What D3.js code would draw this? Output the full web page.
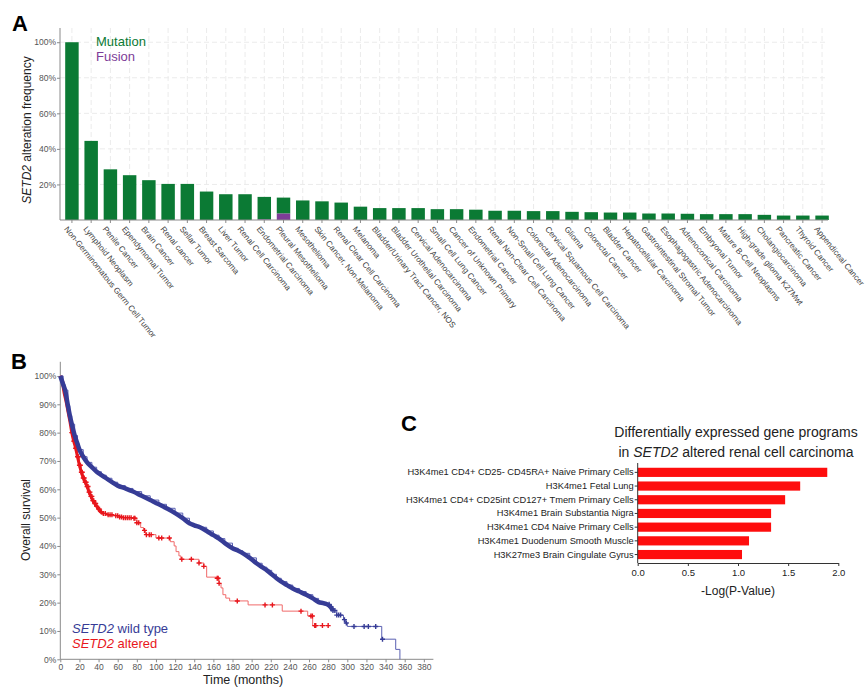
<!DOCTYPE html>
<html>
<head>
<meta charset="utf-8">
<script src="https://cdn.jsdelivr.net/npm/d3@7"></script>
<style>
  html, body { margin: 0; padding: 0; background: #fff; }
  svg { display: block; font-family: "Liberation Sans", Arial, Helvetica, sans-serif; }
</style>
</head>
<body>
<svg id="chart" width="867" height="688"></svg>
<script>
// ---------------- Panel A data ----------------
const categories = [
  "Non-Germinomatous Germ Cell Tumor", "Lymphoid Neoplasm", "Penile Cancer", "Ependymomal Tumor",
  "Brain Cancer", "Renal cancer", "Sellar Tumor", "Breast Sarcoma", "Liver Tumor",
  "Renal Cell Carcinoma", "Endometrial Carcinoma", "Pleural Mesothelioma", "Mesothelioma",
  "Skin Cancer, Non-Melanoma", "Renal Clear Cell Carcinoma", "Melanoma",
  "Bladder/Urinary Tract Cancer, NOS", "Bladder Urothelial Carcinoma", "Cervical Adenocarcinoma",
  "Small Cell Lung Cancer", "Cancer of Unknown Primary", "Endometrial Cancer",
  "Renal Non-Clear Cell Carcinoma", "Non-Small Cell Lung Cancer", "Colorectal Adenocarcinoma",
  "Cervical Squamous Cell Carcinoma", "Glioma", "Colorectal Cancer", "Bladder Cancer",
  "Hepatocellular Carcinoma", "Gastrointestinal Stromal Tumor", "Esophagogastric Adenocarcinoma",
  "Adrenocortical Carcinoma", "Embryonal Tumor", "Mature B-Cell Neoplasms",
  "High-grade glioma K27Mwt", "Cholangiocarcinoma", "Pancreatic Cancer", "Thyroid Cancer",
  "Appendiceal Cancer"
];
const mutationVals = [100, 44.5, 28.5, 25.2, 22.4, 20.3, 20.3, 16.0, 14.5, 14.5,
  12.7, 9.0, 11.0, 10.5, 9.8, 7.5, 6.7, 6.7, 6.7, 6.1,
  6.1, 5.8, 5.2, 5.2, 5.0, 5.0, 4.6, 4.4, 4.2, 4.2,
  3.65, 3.65, 3.5, 3.3, 3.3, 3.3, 2.9, 2.5, 2.5, 2.5];
const fusionVals = [0, 0, 0, 0, 0, 0, 0, 0, 0, 0,
  0.3, 3.6, 0, 0, 0, 0, 0, 0, 0, 0,
  0, 0, 0, 0, 0, 0, 0, 0, 0, 0,
  0, 0, 0, 0, 0, 0, 0, 0, 0, 0];
const freqTicks = [20, 40, 60, 80, 100];

// ---------------- Panel B data ----------------
// Kaplan-Meier step points [months, survival %]
const wildTypeKM = [[0,100],[3,97],[5,95],[8,89.5],[10,86],[12,83],[15,79],[18,76],[20,74],[24,71.5],
  [28,69.5],[33,67.8],[38,66.2],[43,65],[48,63.9],[54,62.5],[60,61.3],[68,60.3],[76,59.2],[85,57.7],
  [94,56.2],[103,54.7],[111,53.3],[120,51.6],[128,49.8],[135,48],[140,47.3],[146,46.6],[153,45.3],
  [160,43.8],[166,42.6],[172,41],[180,39.2],[186,38.3],[191,37.4],[198,35.8],[205,33.9],[211,32.5],
  [216,31.4],[221,30],[226,28.6],[231,27.4],[237,26.2],[243,25],[250,23.9],[257,22.8],[264,21.5],
  [270,20.2],[275,19.8],[279,19.4],[282,18.6],[285,17.2],[289,15.6],[296,14],[298,12.8],[300,11.6],
  [336,7.1],[350.6,3.5],[355,0]];
const wildTypeCensor = [281, 283, 285, 287, 289, 291, 293, 297, 299, 307, 317.6, 322, 329.7, 336.8];
const alteredKM = [[0,100],[2,98],[4,94],[6,91],[8,87.5],[10,84],[12,80],[14,77],[16,74.5],[18,71.5],
  [20,68.5],[22,66],[24,64],[26,62.5],[28,61],[30,59],[32,57.5],[34,56],[36,55],[38,54],[40,53],
  [42,52],[45,51.5],[48,51],[55,50.7],[62,50.2],[66,50],[75,49.8],[80,48.2],[84,46.5],[87,45.5],
  [89,44],[100,42.8],[115,41.5],[119,40],[121,38],[124,36.5],[126,35.3],[145,34],[150,32.8],
  [153,29],[163,28.6],[166,26.8],[168,25.2],[170,22.8],[173,21.6],[177,20.6],[196.3,19.2],[232,17],
  [258.6,15.3],[263.8,11.9],[281,11.9]];
const alteredCensor = [12,13,14,15,16,17,18,19,20,21,22,23,24,25,26,27,28,29,30,31,32,33,34,35,36,37,
  38,40,41,43,45,47,50,52,54,58,60,62,64,66,68,70,72,74,77,78,80,82,88,90,93,95,103,106,114,127,137,
  145,150,164,165,166,185,214,221.7,251.6,262,263.5,266,267,274,280];
const survivalTicks = [0,10,20,30,40,50,60,70,80,90,100];
const timeTicks = [0,20,40,60,80,100,120,140,160,180,200,220,240,260,280,300,320,340,360,380];

// ---------------- Panel C data ----------------
const programs = [
  "H3K4me1 CD4+ CD25- CD45RA+ Naive Primary Cells",
  "H3K4me1 Fetal Lung",
  "H3K4me1 CD4+ CD25int CD127+ Tmem Primary Cells",
  "H3K4me1 Brain Substantia Nigra",
  "H3K4me1 CD4 Naive Primary Cells",
  "H3K4me1 Duodenum Smooth Muscle",
  "H3K27me3 Brain Cingulate Gyrus"
];
const logPVals = [1.89, 1.62, 1.47, 1.33, 1.33, 1.11, 1.04];
const logPTicks = [0, 0.5, 1.0, 1.5, 2.0];

// ---------------- Drawing ----------------
const svg = d3.select("#chart");
const GREEN = "#0b7a34", PURPLE = "#7d3c98", BLUE = "#363c96", RED = "#e8161c", CRED = "#fe0d0d";
const BLUE_THIN = "#5a60b2", RED_THIN = "#f06a6a";
const AXIS = "#8a8a8a", TICKTXT = "#555";
const FONT = "'Liberation Sans', Arial, sans-serif";

// ===== Panel A =====
(function () {
  const x = d3.scaleBand().domain(categories).range([65.2, 828.8]).paddingInner(0.3).paddingOuter(0);
  const y = d3.scaleLinear().domain([0, 108]).range([220, 28]);
  const g = svg.append("g");

  // grid
  g.append("g").selectAll("line").data(freqTicks).join("line")
    .attr("x1", 60).attr("x2", 828).attr("y1", d => y(d)).attr("y2", d => y(d))
    .attr("stroke", "#ebebeb").attr("stroke-dasharray", "5,3");
  g.append("g").selectAll("line").data(categories).join("line")
    .attr("x1", d => x(d) + x.bandwidth() / 2).attr("x2", d => x(d) + x.bandwidth() / 2)
    .attr("y1", 28).attr("y2", 220)
    .attr("stroke", "#ebebeb").attr("stroke-dasharray", "5,3");

  // bars: fusion at bottom, mutation stacked on top
  const rows = categories.map((c, i) => ({ c, m: mutationVals[i], f: fusionVals[i] }));
  g.append("g").selectAll("rect").data(rows).join("rect")
    .attr("x", d => x(d.c)).attr("width", x.bandwidth())
    .attr("y", d => y(d.f + d.m)).attr("height", d => y(d.f) - y(d.f + d.m))
    .attr("fill", GREEN);
  g.append("g").selectAll("rect").data(rows.filter(d => d.f > 0)).join("rect")
    .attr("x", d => x(d.c)).attr("width", x.bandwidth())
    .attr("y", d => y(d.f)).attr("height", d => y(0) - y(d.f))
    .attr("fill", PURPLE);

  // y axis
  const ya = g.append("g").attr("transform", "translate(60,0)")
    .call(d3.axisLeft(y).tickValues(freqTicks).tickFormat(d => d + "%").tickSize(3).tickPadding(1));
  ya.select(".domain").attr("stroke", AXIS).attr("d", "M0,28V220");
  ya.selectAll(".tick line").attr("stroke", AXIS);
  ya.selectAll(".tick text").attr("fill", TICKTXT).style("font-size", "8.5px").style("font-family", FONT);

  // x axis
  const xa = g.append("g").attr("transform", "translate(0,220)")
    .call(d3.axisBottom(x).tickSize(3).tickSizeOuter(0));
  xa.select(".domain").attr("stroke", AXIS).attr("d", "M60,0H828");
  xa.selectAll(".tick line").attr("stroke", AXIS);
  xa.selectAll(".tick text")
    .attr("text-anchor", "start")
    .attr("transform", "translate(-3,5) rotate(51)")
    .attr("x", 0).attr("y", 0).attr("dy", "0.8em")
    .attr("fill", "#444").style("font-size", "8.2px").style("font-family", FONT);

  // y title
  const yt = g.append("text").attr("transform", "translate(31,130) rotate(-90)")
    .attr("text-anchor", "middle").style("font-size", "12px").attr("fill", "#222");
  yt.append("tspan").style("font-style", "italic").text("SETD2");
  yt.append("tspan").text(" alteration frequency");

  // legend
  g.append("text").attr("x", 96).attr("y", 46).attr("fill", GREEN).style("font-size", "13px").text("Mutation");
  g.append("text").attr("x", 96).attr("y", 61).attr("fill", PURPLE).style("font-size", "13px").text("Fusion");

  svg.append("text").attr("x", 12).attr("y", 31).style("font-size", "22px").style("font-weight", "bold").text("A");
})();

// ===== Panel B =====
(function () {
  const x = d3.scaleLinear().domain([0, 390]).range([60.3, 433.4]);
  const y = d3.scaleLinear().domain([0, 105]).range([659.3, 361.8]);
  const g = svg.append("g");

  const ya = g.append("g").attr("transform", "translate(60.3,0)")
    .call(d3.axisLeft(y).tickValues(survivalTicks).tickFormat(d => d + "%").tickSize(3).tickPadding(1));
  ya.select(".domain").attr("stroke", AXIS).attr("d", "M0,361.8V659.3");
  ya.selectAll(".tick line").attr("stroke", AXIS);
  ya.selectAll(".tick text").attr("fill", TICKTXT).style("font-size", "8.5px").style("font-family", FONT);

  const xa = g.append("g").attr("transform", "translate(0,659.3)")
    .call(d3.axisBottom(x).tickValues(timeTicks).tickSize(3).tickPadding(2));
  xa.select(".domain").attr("stroke", AXIS).attr("d", "M60.3,0H433.4");
  xa.selectAll(".tick line").attr("stroke", AXIS);
  xa.selectAll(".tick text").attr("fill", TICKTXT).style("font-size", "8.5px").style("font-family", FONT);

  const stepAt = (km, t) => { let s = km[0][1]; for (const p of km) { if (p[0] <= t) s = p[1]; else break; } return s; };
  const stepLine = d3.line().x(d => x(d[0])).y(d => y(d[1])).curve(d3.curveStepAfter);
  const smoothLine = d3.line().x(d => x(d[0])).y(d => y(d[1])).curve(d3.curveMonotoneX);
  const plus = (sel, km, times, col) => sel.selectAll("path.c").data(times).join("path")
    .attr("class", "c")
    .attr("d", t => { const cx = x(t), cy = y(stepAt(km, t)); return `M${cx - 2.5},${cy}H${cx + 2.5}M${cx},${cy - 2.5}V${cy + 2.5}`; })
    .attr("stroke", col).attr("stroke-width", 1.4);

  // altered (red)
  g.append("path").attr("d", stepLine(alteredKM)).attr("fill", "none").attr("stroke", RED_THIN).attr("stroke-width", 1);
  g.append("path").attr("d", smoothLine(alteredKM.filter(d => d[0] <= 45)))
    .attr("fill", "none").attr("stroke", RED).attr("stroke-width", 3);
  plus(g.append("g"), alteredKM, alteredCensor, RED);

  // wild type (blue)
  g.append("path").attr("d", stepLine(wildTypeKM)).attr("fill", "none").attr("stroke", BLUE_THIN).attr("stroke-width", 1);
  g.append("path").attr("d", smoothLine(wildTypeKM.filter(d => d[0] <= 285)))
    .attr("fill", "none").attr("stroke", BLUE).attr("stroke-width", 4.5).attr("stroke-linejoin", "round");
  plus(g.append("g"), wildTypeKM, wildTypeCensor, BLUE);

  // titles
  g.append("text").attr("transform", "translate(30,520) rotate(-90)").attr("text-anchor", "middle")
    .style("font-size", "12px").attr("fill", "#222").text("Overall survival");
  g.append("text").attr("x", 243).attr("y", 684).attr("text-anchor", "middle")
    .style("font-size", "12.5px").attr("fill", "#222").text("Time (months)");

  // legend
  const l1 = g.append("text").attr("x", 72).attr("y", 633).attr("fill", BLUE).style("font-size", "13px");
  l1.append("tspan").style("font-style", "italic").text("SETD2");
  l1.append("tspan").text(" wild type");
  const l2 = g.append("text").attr("x", 72).attr("y", 648).attr("fill", RED).style("font-size", "13px");
  l2.append("tspan").style("font-style", "italic").text("SETD2");
  l2.append("tspan").text(" altered");

  svg.append("text").attr("x", 11).attr("y", 369).style("font-size", "22px").style("font-weight", "bold").text("B");
})();

// ===== Panel C =====
(function () {
  const x = d3.scaleLinear().domain([0, 2]).range([637.7, 838.3]);
  const y = d3.scaleBand().domain(programs).range([465.5, 561.4]).paddingInner(0.33).paddingOuter(0.165);
  const g = svg.append("g");

  g.append("g").selectAll("rect").data(programs).join("rect")
    .attr("x", x(0)).attr("y", d => y(d))
    .attr("width", (d, i) => x(logPVals[i]) - x(0)).attr("height", y.bandwidth())
    .attr("fill", CRED);

  const ya = g.append("g").attr("transform", "translate(637.7,0)")
    .call(d3.axisLeft(y).tickSize(3).tickSizeOuter(0).tickPadding(1));
  ya.select(".domain").attr("stroke", "#333").attr("d", "M0,463V563");
  ya.selectAll(".tick line").attr("stroke", "#333");
  ya.selectAll(".tick text").attr("fill", "#222").style("font-size", "9.3px").style("font-family", FONT);

  const xa = g.append("g").attr("transform", "translate(0,563)")
    .call(d3.axisBottom(x).tickValues(logPTicks).tickFormat(d3.format(".1f")).tickSize(3).tickSizeOuter(0).tickPadding(3));
  xa.select(".domain").attr("stroke", "#333");
  xa.selectAll(".tick line").attr("stroke", "#333");
  xa.selectAll(".tick text").attr("fill", "#222").style("font-size", "9.5px").style("font-family", FONT);

  g.append("text").attr("x", 738).attr("y", 595).attr("text-anchor", "middle")
    .style("font-size", "12px").attr("fill", "#222").text("-Log(P-Value)");

  g.append("text").attr("x", 736).attr("y", 436.5).attr("text-anchor", "middle")
    .style("font-size", "14px").attr("fill", "#222").text("Differentially expressed gene programs");
  const t2 = g.append("text").attr("x", 736).attr("y", 456.5).attr("text-anchor", "middle")
    .style("font-size", "14px").attr("fill", "#222");
  t2.append("tspan").text("in ");
  t2.append("tspan").style("font-style", "italic").text("SETD2");
  t2.append("tspan").text(" altered renal cell carcinoma");

  svg.append("text").attr("x", 401).attr("y", 431).style("font-size", "22px").style("font-weight", "bold").text("C");
})();
</script>
</body>
</html>
